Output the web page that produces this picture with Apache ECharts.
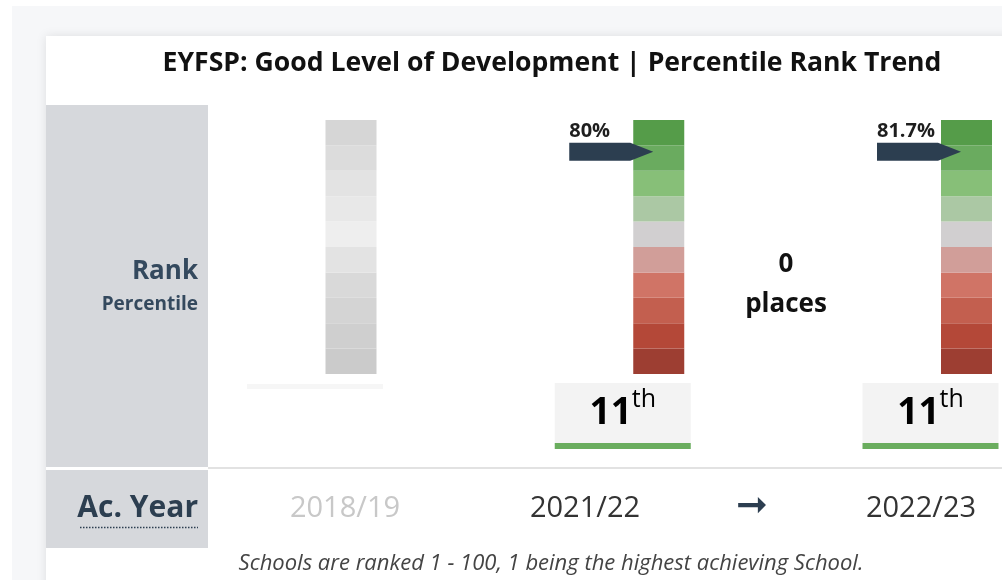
<!DOCTYPE html>
<html>
<head>
<meta charset="utf-8">
<script src="https://cdn.jsdelivr.net/npm/echarts@6/dist/echarts.min.js"></script>
<style>
  html, body { margin: 0; padding: 0; background: #ffffff; }
  #chart { width: 1002px; height: 580px; }
</style>
</head>
<body>
<div id="chart"></div>
<script>
// data
const years = ['2018/19', '2021/22', '2022/23']
const ranks = [null, 11, 11]                 // school rank (1 - 100)
const percentiles = [null, '80%', '81.7%']   // arrow labels
const markerLevel = [null, 87.5, 87.5]       // where the arrow points on the 0-100 band scale
const active = [false, true, true]           // 2018/19 has no data, drawn greyed out

// ten bands of the rank scale, bottom -> top
const bandValues = [10, 10, 10, 10, 10, 10, 10, 10, 10, 10]
const bandColours = ['#9d3e32', '#b44838', '#c35f4f', '#d07466', '#d19e99',
                     '#d1cfd0', '#abc8a4', '#87bf78', '#6aab5f', '#559c49']
const greyBands = ['#cbcbcb', '#cfcfcf', '#d4d4d4', '#d9d9d9', '#e3e3e3',
                   '#eeeeee', '#e8e8e8', '#e3e3e3', '#dcdcdc', '#d6d6d6']

// layout of the table columns (x of each year label)
const yearX = [345, 585, 921]
const font = '"Open Sans", "DejaVu Sans", sans-serif'
const navy = '#2c3e50'

function ordinal(n) {
    let s = 'th'
    if (n % 100 < 11 || n % 100 > 13) {
        if (n % 10 === 1) s = 'st'
        else if (n % 10 === 2) s = 'nd'
        else if (n % 10 === 3) s = 'rd'
    }
    return s
}

let chart = echarts.init(document.getElementById('chart'))

let bandSeries = bandValues.map((v, i) => ({
    type: 'bar',
    stack: 'band',
    barWidth: 51,
    silent: true,
    z: 2,
    data: years.map((y, c) => ({
        value: v,
        itemStyle: { color: active[c] ? bandColours[i] : greyBands[i] }
    }))
}))

let arrowSeries = {
    type: 'scatter',
    z: 5,
    silent: true,
    symbol: 'path://M0,0L61,0L84,9L61,18L0,18Z',
    symbolSize: [84, 18],
    symbolOffset: [-47.5, 0],
    itemStyle: { color: navy, opacity: 1 },
    label: {
        show: true,
        position: [0, -11],
        align: 'left',
        verticalAlign: 'middle',
        formatter: (p) => percentiles[p.dataIndex],
        fontFamily: font,
        fontWeight: 'bold',
        fontSize: 20,
        color: '#1e1e1e'
    },
    data: markerLevel.map((v) => (v == null ? '-' : v))
}

let rankSeries = {
    type: 'custom',
    silent: true,
    clip: false,
    z: 3,
    data: ranks.map((r, i) => [i, r == null ? 0 : r]),
    renderItem: function (params, api) {
        let idx = api.value(0)
        let rank = api.value(1)
        let pt = api.coord([idx, 0])
        let cx = pt[0] - 36
        let top = pt[1] + 9
        if (!rank) {
            return {
                type: 'rect',
                shape: { x: cx - 68, y: top + 1, width: 136, height: 5 },
                style: { fill: '#f6f6f6' }
            }
        }
        return {
            type: 'group',
            children: [
                { type: 'rect', shape: { x: cx - 68, y: top, width: 136, height: 60 }, style: { fill: '#f3f3f3' } },
                { type: 'rect', shape: { x: cx - 68, y: top + 60, width: 136, height: 6 }, style: { fill: '#6aad5e' } },
                {
                    type: 'text',
                    x: cx, y: top + 30,
                    style: {
                        text: '{n|' + rank + '}{s|' + ordinal(rank) + '}',
                        align: 'center',
                        verticalAlign: 'middle',
                        rich: {
                            n: { fontFamily: font, fontWeight: 'bold', fontSize: 37, lineHeight: 52, color: '#111111' },
                            s: { fontFamily: font, fontSize: 25, lineHeight: 25, verticalAlign: 'top', color: '#222222' }
                        }
                    }
                }
            ]
        }
    }
}

let graphics = [
    // page and card
    { type: 'rect', z: -10, shape: { x: 12, y: 6, width: 1000, height: 580 }, style: { fill: '#f6f7f9' } },
    { type: 'rect', z: -9, shape: { x: 46, y: 36, width: 1000, height: 600 },
      style: { fill: '#ffffff', shadowBlur: 10, shadowColor: 'rgba(0,0,0,0.10)' } },
    // row headers
    { type: 'rect', z: -8, shape: { x: 46, y: 105, width: 162, height: 362 }, style: { fill: '#d6d8dc' } },
    { type: 'rect', z: -8, shape: { x: 46, y: 470, width: 162, height: 78 }, style: { fill: '#d6d8dc' } },
    { type: 'rect', z: -8, shape: { x: 208, y: 467, width: 800, height: 2 }, style: { fill: '#e2e2e2' } },
    { type: 'text', x: 198, y: 272, style: { text: 'Rank', align: 'right', verticalAlign: 'middle',
      fontFamily: font, fontWeight: 'bold', fontSize: 26, fill: '#34495e' } },
    { type: 'text', x: 198, y: 305, style: { text: 'Percentile', align: 'right', verticalAlign: 'middle',
      fontFamily: font, fontWeight: 'bold', fontSize: 19, fill: '#34495e' } },
    { type: 'text', x: 198, y: 508, style: { text: 'Ac. Year', align: 'right', verticalAlign: 'middle',
      fontFamily: font, fontWeight: 'bold', fontSize: 30, fill: navy } },
    { type: 'line', shape: { x1: 80, y1: 527.5, x2: 198, y2: 527.5 },
      style: { stroke: navy, lineWidth: 1.5, lineDash: [1.5, 1.5] } },
    // rank change between the last two years
    { type: 'text', x: 786, y: 265, style: { text: String(ranks[1] - ranks[2]), align: 'center', verticalAlign: 'middle',
      fontFamily: font, fontWeight: 'bold', fontSize: 26, fill: '#111111' } },
    { type: 'text', x: 786, y: 305, style: { text: 'places', align: 'center', verticalAlign: 'middle',
      fontFamily: font, fontWeight: 'bold', fontSize: 26, fill: '#111111' } },
    { type: 'text', x: 752, y: 507, style: { text: '➞', align: 'center', verticalAlign: 'middle',
      fontFamily: '"DejaVu Sans", sans-serif', fontWeight: 'bold', fontSize: 38, fill: navy } },
    // footnote
    { type: 'text', x: 551, y: 564, style: { text: 'Schools are ranked 1 - 100, 1 being the highest achieving School.',
      align: 'center', verticalAlign: 'middle', fontFamily: font, fontStyle: 'italic', fontSize: 22, fill: '#444444' } }
]
years.forEach((y, i) => {
    graphics.push({ type: 'text', x: yearX[i], y: 509, style: { text: y, align: 'center', verticalAlign: 'middle',
        fontFamily: font, fontSize: 29, fill: active[i] ? '#333333' : '#c8c8c8' } })
})

chart.setOption({
    animation: false,
    title: {
        text: 'EYFSP: Good Level of Development | Percentile Rank Trend',
        left: 547,
        top: 45,
        textAlign: 'center',
        textStyle: { fontFamily: font, fontWeight: 'bold', fontSize: 26.6, color: '#111111' }
    },
    // boundaryGap off: first and last year sit on the grid edges
    grid: { left: 351, width: 615.5, top: 120, height: 254 },
    xAxis: {
        type: 'category',
        data: years,
        boundaryGap: false,
        show: false
    },
    yAxis: {
        type: 'value',
        min: 0,
        max: 100,
        show: false
    },
    graphic: graphics,
    series: [...bandSeries, arrowSeries, rankSeries]
})
</script>
</body>
</html>
